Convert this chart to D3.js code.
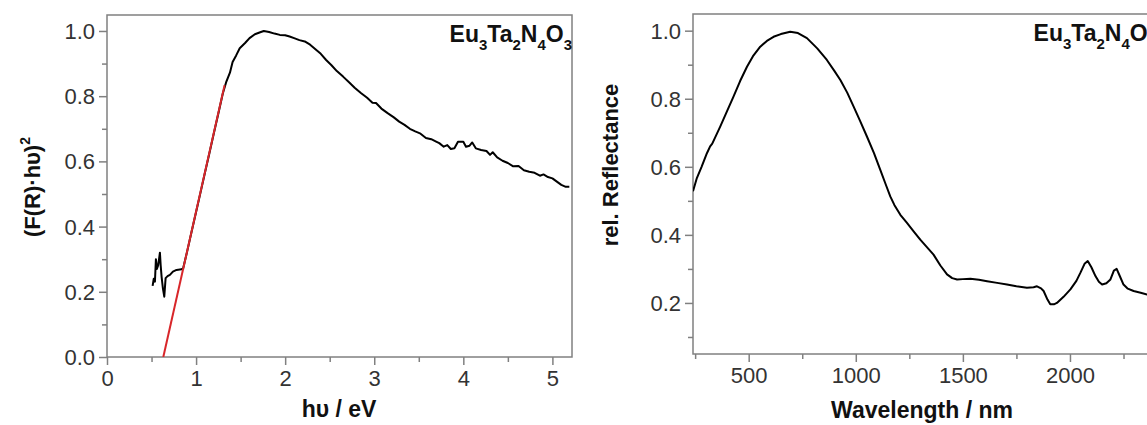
<!DOCTYPE html>
<html><head><meta charset="utf-8">
<script src="https://cdn.jsdelivr.net/npm/d3@7"></script>
<style>
body{margin:0;background:#fff}
text{font-family:"Liberation Sans",Arial,Helvetica,sans-serif}
</style>
</head><body>
<svg id="c" width="1147" height="425"></svg>
<script>
// ---- Data ----
const kmEnergy = [0.512,0.525,0.538,0.549,0.56,0.575,0.594,0.603,0.613,0.628,0.643,0.658,0.68,0.706,0.74,0.78,0.837,0.855,0.9,0.95,1.0,1.05,1.1,1.15,1.2,1.25,1.3,1.34,1.38,1.41,1.45,1.49,1.55,1.60,1.66,1.72,1.76,1.82,1.88,1.94,2.0,2.05,2.1,2.16,2.22,2.28,2.34,2.40,2.46,2.52,2.58,2.65,2.72,2.78,2.85,2.92,2.98,3.02,3.08,3.15,3.22,3.28,3.34,3.40,3.46,3.52,3.58,3.64,3.70,3.73,3.78,3.82,3.86,3.90,3.94,4.0,4.03,4.07,4.1,4.14,4.2,4.26,4.30,4.33,4.38,4.44,4.50,4.56,4.62,4.68,4.74,4.80,4.86,4.90,4.95,5.0,5.05,5.10,5.15,5.19];
const kmValue = [0.218,0.24,0.231,0.30,0.27,0.282,0.32,0.28,0.246,0.21,0.185,0.242,0.248,0.252,0.262,0.267,0.269,0.272,0.324,0.385,0.445,0.505,0.566,0.626,0.687,0.747,0.808,0.845,0.872,0.905,0.925,0.947,0.963,0.978,0.99,0.996,1.0,0.997,0.992,0.988,0.987,0.983,0.978,0.972,0.968,0.958,0.944,0.93,0.911,0.895,0.877,0.86,0.842,0.826,0.81,0.795,0.78,0.779,0.762,0.748,0.735,0.722,0.712,0.70,0.692,0.685,0.672,0.668,0.66,0.656,0.645,0.65,0.638,0.64,0.66,0.66,0.645,0.648,0.658,0.64,0.635,0.632,0.62,0.628,0.612,0.602,0.595,0.585,0.586,0.573,0.568,0.565,0.556,0.56,0.552,0.548,0.538,0.528,0.522,0.522];
const fitEnergy = [0.632, 1.32];
const fitValue = [0.0, 0.834];

const wavelength = [240,258,280,305,320,330,367,400,429,460,492,520,554,585,616,650,694,730,772,820,865,900,928,960,990,1020,1052,1085,1114,1140,1161,1180,1208,1239,1270,1301,1332,1363,1395,1426,1450,1473,1500,1535,1575,1613,1660,1706,1750,1799,1830,1846,1865,1877,1895,1908,1925,1939,1970,2002,2030,2049,2068,2083,2100,2119,2135,2150,2170,2189,2205,2218,2232,2250,2270,2297,2330,2360,2390,2420];
const reflectance = [0.528,0.567,0.60,0.64,0.66,0.668,0.718,0.765,0.806,0.852,0.894,0.925,0.953,0.97,0.982,0.99,0.997,0.993,0.978,0.948,0.914,0.882,0.855,0.818,0.777,0.735,0.689,0.64,0.592,0.548,0.513,0.488,0.459,0.435,0.41,0.386,0.364,0.342,0.31,0.284,0.273,0.269,0.27,0.271,0.268,0.264,0.259,0.254,0.249,0.245,0.246,0.249,0.243,0.235,0.21,0.196,0.196,0.2,0.218,0.24,0.265,0.289,0.315,0.323,0.305,0.279,0.262,0.254,0.258,0.269,0.295,0.30,0.28,0.254,0.242,0.235,0.23,0.225,0.222,0.22];

const leftXTicks = [0,1,2,3,4,5];
const leftXMinor = [0.5,1.5,2.5,3.5,4.5];
const leftYTicks = [0.0,0.2,0.4,0.6,0.8,1.0];
const leftYMinor = [0.1,0.3,0.5,0.7,0.9];
const rightXTicks = [500,1000,1500,2000];
const rightXMinor = [250,750,1250,1750,2250];
const rightYTicks = [0.2,0.4,0.6,0.8,1.0];
const rightYMinor = [0.1,0.3,0.5,0.7,0.9];

// ---- Drawing ----
const svg = d3.select("#c");
const frameColor = "#808080";
const tickColor = "#333";

function panel(cfg){
  const g = svg.append("g");
  const x = d3.scaleLinear().domain(cfg.xDomain).range([cfg.x0, cfg.x1]);
  const y = d3.scaleLinear().domain(cfg.yDomain).range([cfg.y1, cfg.y0]);
  const clipId = "clip" + cfg.id;
  svg.append("clipPath").attr("id", clipId).append("rect")
    .attr("x", cfg.x0).attr("y", cfg.y0).attr("width", cfg.x1 - cfg.x0).attr("height", cfg.y1 - cfg.y0);

  const xm = g.append("g").attr("transform", `translate(0,${cfg.y1})`)
    .call(d3.axisBottom(x).tickValues(cfg.xMinor).tickSize(5).tickFormat(""));
  const ym = g.append("g").attr("transform", `translate(${cfg.x0},0)`)
    .call(d3.axisLeft(y).tickValues(cfg.yMinor).tickSize(5).tickFormat(""));
  const xa = g.append("g").attr("transform", `translate(0,${cfg.y1})`)
    .call(d3.axisBottom(x).tickValues(cfg.xTicks).tickSize(8).tickPadding(5).tickFormat(cfg.xFmt));
  const ya = g.append("g").attr("transform", `translate(${cfg.x0},0)`)
    .call(d3.axisLeft(y).tickValues(cfg.yTicks).tickSize(8).tickPadding(4).tickFormat(d3.format(".1f")));
  [xm, ym, xa, ya].forEach(a => {
    a.select(".domain").remove();
    a.selectAll(".tick line").attr("stroke", frameColor).attr("stroke-width", 1.5);
    a.selectAll(".tick text").attr("fill", tickColor).style("font-size", "22px")
      .style("font-family", '"Liberation Sans",Arial,sans-serif');
  });
  xa.selectAll(".tick text").attr("dy", "0.71em");
  ya.selectAll(".tick text").attr("dy", "0.34em");

  g.append("rect").attr("x", cfg.x0).attr("y", cfg.y0)
    .attr("width", cfg.x1 - cfg.x0).attr("height", cfg.y1 - cfg.y0)
    .attr("fill", "none").attr("stroke", frameColor).attr("stroke-width", 1.5);

  const plot = g.append("g").attr("clip-path", `url(#${clipId})`);
  return {g, x, y, plot};
}

// Left panel
const L = panel({id:"L", x0:107, x1:572, y0:15, y1:357, xDomain:[0,5.22], yDomain:[0,1.049],
  xTicks:leftXTicks, xMinor:leftXMinor, yTicks:leftYTicks, yMinor:leftYMinor, xFmt:d3.format("d")});
const lineL = d3.line().x(d => L.x(d[0])).y(d => L.y(d[1]));
L.plot.append("path").datum(kmEnergy.map((e,i)=>[e,kmValue[i]]))
  .attr("d", lineL).attr("fill","none").attr("stroke","#000").attr("stroke-width",2).attr("stroke-linejoin","round");
L.plot.append("path").datum(fitEnergy.map((e,i)=>[e,fitValue[i]]))
  .attr("d", lineL).attr("fill","none").attr("stroke","#d8262a").attr("stroke-width",2);

// Right panel
const R = panel({id:"R", x0:693, x1:1158, y0:14, y1:354, xDomain:[240,2411], yDomain:[0.05,1.049],
  xTicks:rightXTicks, xMinor:rightXMinor, yTicks:rightYTicks, yMinor:rightYMinor, xFmt:d3.format("d")});
const lineR = d3.line().x(d => R.x(d[0])).y(d => R.y(d[1]));
R.plot.append("path").datum(wavelength.map((w,i)=>[w,reflectance[i]]))
  .attr("d", lineR).attr("fill","none").attr("stroke","#000").attr("stroke-width",2).attr("stroke-linejoin","round");

// Formula labels
function formula(xRight, yBase){
  const t = svg.append("text").attr("x", xRight).attr("y", yBase).attr("text-anchor","end")
    .style("font-weight","bold").style("font-size","23px").attr("fill","#111");
  const parts = [["Eu",""],["3","s"],["Ta",""],["2","s"],["N",""],["4","s"],["O",""],["3","s"]];
  parts.forEach(p => {
    if (p[1] === "s") t.append("tspan").text(p[0]).style("font-size","15px").attr("dy", 8);
    else t.append("tspan").text(p[0]).attr("dy", -8);
  });
  t.select("tspan").attr("dy", 0);
  return t;
}
formula(572, 42);
formula(1156, 41);

// Axis titles
svg.append("text").attr("x", 339).attr("y", 417).attr("text-anchor","middle")
  .style("font-weight","bold").style("font-size","23px").attr("fill","#111").text("hυ / eV");
svg.append("text").attr("x", 922).attr("y", 418).attr("text-anchor","middle")
  .style("font-weight","bold").style("font-size","23px").attr("fill","#111").text("Wavelength / nm");

const yl = svg.append("text").attr("transform","translate(40,187) rotate(-90)").attr("text-anchor","middle")
  .style("font-weight","bold").style("font-size","22px").attr("fill","#111");
yl.append("tspan").text("(F(R)·hυ)");
yl.append("tspan").text("2").style("font-size","14px").attr("dy", -10);

svg.append("text").attr("transform","translate(618,165) rotate(-90)").attr("text-anchor","middle")
  .style("font-weight","bold").style("font-size","22px").attr("fill","#111").text("rel. Reflectance");
</script>
</body></html>
